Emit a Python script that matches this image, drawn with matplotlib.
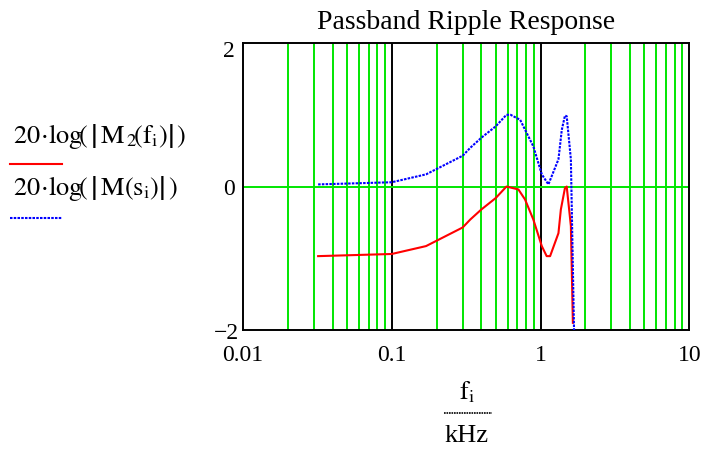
import matplotlib.pyplot as plt
import matplotlib.lines as mlines
import matplotlib.transforms as mtransforms
import numpy as np

plt.rcParams["font.family"] = ["Liberation Serif", "DejaVu Serif"]
plt.rcParams["mathtext.fontset"] = "stix"

# frequency points (kHz) and responses (dB)
freq_m2 = [0.032, 0.1, 0.17, 0.3, 0.337, 0.4, 0.5, 0.59, 0.71, 0.787, 0.895, 1.02,
           1.1, 1.16, 1.32, 1.37, 1.46, 1.5, 1.6, 1.65]
resp_m2 = [-0.97, -0.94, -0.83, -0.57, -0.46, -0.32, -0.16, 0.0, -0.04, -0.18, -0.46,
           -0.83, -0.97, -0.97, -0.65, -0.32, -0.02, 0.0, -0.55, -1.9]

freq_m = [0.032, 0.1, 0.17, 0.3, 0.337, 0.4, 0.5, 0.59, 0.63, 0.73, 0.895, 1.02,
          1.13, 1.32, 1.39, 1.46, 1.5, 1.6, 1.68]
resp_m = [0.03, 0.06, 0.17, 0.43, 0.54, 0.68, 0.84, 1.0, 1.0, 0.93, 0.56, 0.17,
          0.03, 0.38, 0.79, 0.99, 0.98, 0.38, -2.0]

x_ticks = [0.01, 0.1, 1, 10]
x_tick_labels = ["0.01", "0.1", "1", "10"]
y_ticks = [-2, 0, 2]
y_tick_labels = ["\u22122", "0", "2"]

fig = plt.figure(figsize=(7.21, 4.49), dpi=100)
ax = fig.add_axes([0.337, 0.265, 0.619, 0.639])
ax.set_xscale("log")
ax.set_xlim(0.01, 10)
ax.set_ylim(-2, 2)

# grid: green at minor log positions, black at interior decades, green at y=0
for dec in [0.01, 0.1, 1]:
    for m in range(2, 10):
        ax.axvline(dec * m, color="#00e600", lw=1.4, zorder=1)
for dec in [0.1, 1]:
    ax.axvline(dec, color="black", lw=1.4, zorder=1)
ax.axhline(0, color="#00e600", lw=1.4, zorder=1)

ax.plot(freq_m2, resp_m2, color="#ff0000", lw=1.5, zorder=3)
ax.plot(freq_m, resp_m, color="#0000ff", lw=1.5, ls=(0, (1.2, 0.6)), zorder=3)

ax.set_xticks(x_ticks)
ax.set_xticklabels(x_tick_labels)
ax.set_yticks(y_ticks)
ax.set_yticklabels(y_tick_labels)
ax.xaxis.set_minor_locator(plt.NullLocator())
ax.tick_params(length=0, labelsize=17, pad=11)
ax.tick_params(axis="y", pad=6)
for s in ax.spines.values():
    s.set_linewidth(1.4)
    s.set_color("black")

# nudge the end labels of the y axis like the original
ylabels = ax.get_yticklabels()
ylabels[0].set_transform(ylabels[0].get_transform()
                         + mtransforms.ScaledTranslation(0.04, -0.01, fig.dpi_scale_trans))
ylabels[2].set_transform(ylabels[2].get_transform()
                         + mtransforms.ScaledTranslation(0, -0.06, fig.dpi_scale_trans))

ax.set_title("Passband Ripple Response", fontsize=20, pad=10)

# legend on the left
fig.text(0.018, 0.695, r"$\mathrm{20\!\cdot\!log\!\left(\,\left|\,M_{\,2}\!\left(f_i\right)\right|\,\right)}$",
         fontsize=19, va="center", ha="left")
fig.add_artist(mlines.Line2D([0.014, 0.086], [0.635, 0.635], color="#ff0000", lw=1.5))
fig.text(0.018, 0.58, r"$\mathrm{20\!\cdot\!log\!\left(\,\left|\,M\left(s_i\right)\right|\,\right)}$",
         fontsize=19, va="center", ha="left")
fig.add_artist(mlines.Line2D([0.014, 0.086], [0.514, 0.514], color="#0000ff", lw=1.5,
                             ls=(0, (1.2, 0.6))))

# x label as a fraction
fig.text(0.647, 0.127, r"$\mathrm{f_i}$", fontsize=19, ha="center", va="center")
fig.add_artist(mlines.Line2D([0.616, 0.682], [0.08, 0.08], color="black", lw=1.2,
                             ls=(0, (1, 0.5))))
fig.text(0.647, 0.03, "kHz", fontsize=19, ha="center", va="center")

fig.savefig("out.png", dpi=100)
